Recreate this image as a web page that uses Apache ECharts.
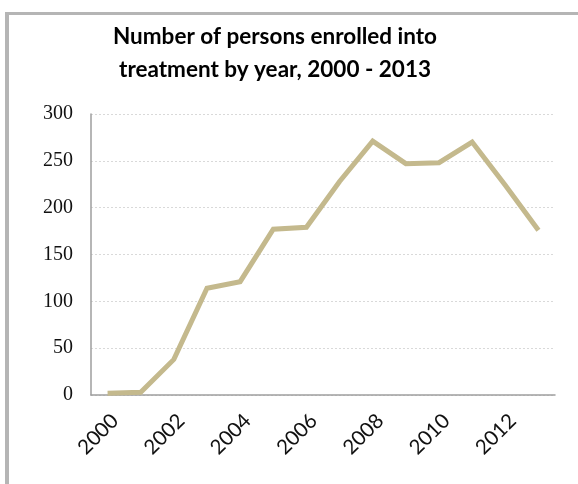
<!DOCTYPE html>
<html><head><meta charset="utf-8">
<script src="https://cdn.jsdelivr.net/npm/echarts@6/dist/echarts.min.js"></script>
<style>
html,body{margin:0;padding:0;background:#fff;overflow:hidden}
#frame{position:absolute;left:5px;top:12px;width:700px;height:600px;border-left:4px solid #b5b5b5;border-top:3px solid #b5b5b5;box-sizing:border-box}
#c{position:absolute;left:0;top:0;width:578px;height:484px}
</style></head>
<body>
<div id="frame"></div>
<div id="c"></div>
<script>
const years = ['2000','2001','2002','2003','2004','2005','2006','2007','2008','2009','2010','2011','2012','2013'];
const enrolled = [2, 3, 38, 114, 121, 177, 179, 228, 271, 247, 248, 270, 224, 176];
const titleLines = ['Number of persons enrolled into', 'treatment by year, 2000 - 2013'];

const chart = echarts.init(document.getElementById('c'), null, {renderer:'canvas'});
chart.setOption({
  animation:false,
  backgroundColor:'transparent',
  graphic:[{
    type:'text', x:275, y:20,
    style:{text:titleLines.join('\n'), textAlign:'center', textVerticalAlign:'top',
      font:'bold 22.5px Lato', lineHeight:33, fill:'#000'}
  }],
  grid:{left:91, right:23, top:114, bottom:89, containLabel:false},
  xAxis:{
    type:'category', data:years, boundaryGap:true,
    axisLine:{lineStyle:{color:'#9e9e9e', width:1.5}},
    axisTick:{show:false},
    axisLabel:{interval:1, rotate:45, fontFamily:'Lato', fontSize:20.5, color:'#111', margin:15, verticalAlign:'top'}
  },
  yAxis:{
    type:'value', min:0, max:300, interval:50,
    axisLine:{show:true, lineStyle:{color:'#9e9e9e', width:1.5}},
    axisTick:{show:false},
    axisLabel:{fontFamily:'Liberation Serif', fontSize:20, color:'#111', margin:18},
    splitLine:{lineStyle:{color:'#d9d9d9', type:[2,2], width:1}}
  },
  series:[{
    type:'line', data:enrolled, symbol:'none', smooth:false,
    lineStyle:{color:'#c4b98d', width:5, cap:'butt', join:'miter'}
  }]
});
</script>
</body></html>
